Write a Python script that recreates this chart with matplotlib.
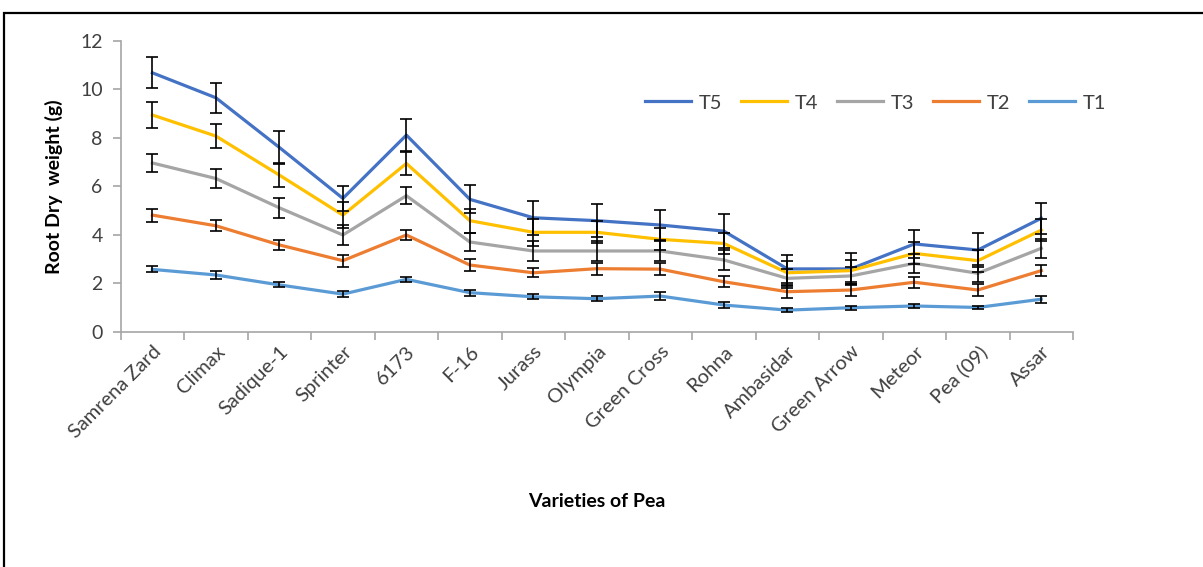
import numpy as np
import matplotlib.pyplot as plt
from matplotlib.patches import Rectangle

plt.rcParams['font.family'] = ['Lato', 'DejaVu Sans']

varieties = ['Samrena Zard', 'Climax', 'Sadique-1', 'Sprinter', '6173', 'F-16',
             'Jurass', 'Olympia', 'Green Cross', 'Rohna', 'Ambasidar',
             'Green Arrow', 'Meteor', 'Pea (09)', 'Assar']

T5 = [10.68, 9.65, 7.60, 5.50, 8.11, 5.46, 4.70, 4.58, 4.40, 4.15, 2.59, 2.59, 3.62, 3.37, 4.68]
T4 = [8.94, 8.07, 6.46, 4.81, 6.94, 4.58, 4.10, 4.10, 3.81, 3.64, 2.43, 2.52, 3.23, 2.93, 4.19]
T3 = [6.96, 6.32, 5.11, 3.99, 5.61, 3.70, 3.33, 3.33, 3.33, 2.96, 2.20, 2.30, 2.82, 2.41, 3.44]
T2 = [4.81, 4.37, 3.58, 2.93, 3.99, 2.75, 2.43, 2.60, 2.58, 2.06, 1.65, 1.72, 2.04, 1.72, 2.52]
T1 = [2.57, 2.34, 1.93, 1.55, 2.16, 1.61, 1.44, 1.36, 1.47, 1.10, 0.89, 0.99, 1.06, 1.00, 1.34]

T5_err = [0.64, 0.63, 0.68, 0.53, 0.67, 0.58, 0.70, 0.67, 0.60, 0.70, 0.57, 0.67, 0.57, 0.69, 0.64]
T4_err = [0.52, 0.50, 0.50, 0.52, 0.48, 0.50, 0.55, 0.45, 0.45, 0.45, 0.50, 0.45, 0.45, 0.45, 0.45]
T3_err = [0.39, 0.40, 0.40, 0.40, 0.34, 0.37, 0.40, 0.40, 0.40, 0.40, 0.40, 0.35, 0.38, 0.35, 0.40]
T2_err = [0.27, 0.22, 0.22, 0.25, 0.20, 0.26, 0.18, 0.25, 0.25, 0.22, 0.25, 0.25, 0.22, 0.25, 0.22]
T1_err = [0.12, 0.15, 0.10, 0.13, 0.10, 0.12, 0.10, 0.10, 0.15, 0.14, 0.08, 0.08, 0.10, 0.08, 0.14]

series = [('T5', T5, T5_err, '#4472C4'),
          ('T4', T4, T4_err, '#FFC000'),
          ('T3', T3, T3_err, '#A5A5A5'),
          ('T2', T2, T2_err, '#ED7D31'),
          ('T1', T1, T1_err, '#5B9BD5')]

x = np.arange(len(varieties))

fig = plt.figure(figsize=(12.03, 5.67), dpi=100)
ax = fig.add_axes([0.1003, 0.415, 0.7917, 0.513])

# outer frame of the chart area (top and left edges visible)
fig.patches.append(Rectangle((4 / 1203, -0.2), 1.2, 1.2 - 13 / 567,
                             transform=fig.transFigure, fill=False,
                             edgecolor='black', linewidth=1.6))

for name, vals, err, col in series:
    ax.plot(x, vals, color=col, linewidth=2.3, label=name, zorder=2)
for name, vals, err, col in series:
    ax.errorbar(x, vals, yerr=err, fmt='none', ecolor='black',
                elinewidth=1.2, capsize=4.5, capthick=1.2, zorder=3)

ax.set_xlim(-0.5, len(varieties) - 0.5)
ax.set_ylim(0, 12)
ax.set_yticks(range(0, 13, 2))
ax.set_xticks(x)
ax.set_xticks(np.arange(-0.5, len(varieties), 1), minor=True)
ax.set_xticklabels(varieties, rotation=45, ha='right', rotation_mode='anchor',
                   fontsize=14.5, color='#404040')
ax.tick_params(axis='x', which='major', length=0, pad=8)
ax.tick_params(axis='x', which='minor', length=6, color='#A6A6A6', width=1.2)
ax.tick_params(axis='y', length=6, color='#A6A6A6', width=1.2,
               labelsize=14, labelcolor='#404040', pad=7)

for s in ['top', 'right']:
    ax.spines[s].set_visible(False)
for s in ['left', 'bottom']:
    ax.spines[s].set_color('#A6A6A6')
    ax.spines[s].set_linewidth(1.2)

ax.set_ylabel('Root Dry  weight (g)', fontsize=14, fontweight='bold', labelpad=12)
ax.set_xlabel('Varieties of Pea', fontsize=14, fontweight='bold')
ax.xaxis.set_label_coords(0.5, -0.555)

ax.legend(loc='center left', bbox_to_anchor=(645 / 1203, 1 - 103 / 567),
          bbox_transform=fig.transFigure, ncol=5, frameon=False,
          fontsize=14.5, handlelength=2.3, handletextpad=0.35,
          columnspacing=0.95, borderpad=0, borderaxespad=0,
          labelcolor='#404040')

fig.savefig('out.png', dpi=100)
plt.close(fig)
